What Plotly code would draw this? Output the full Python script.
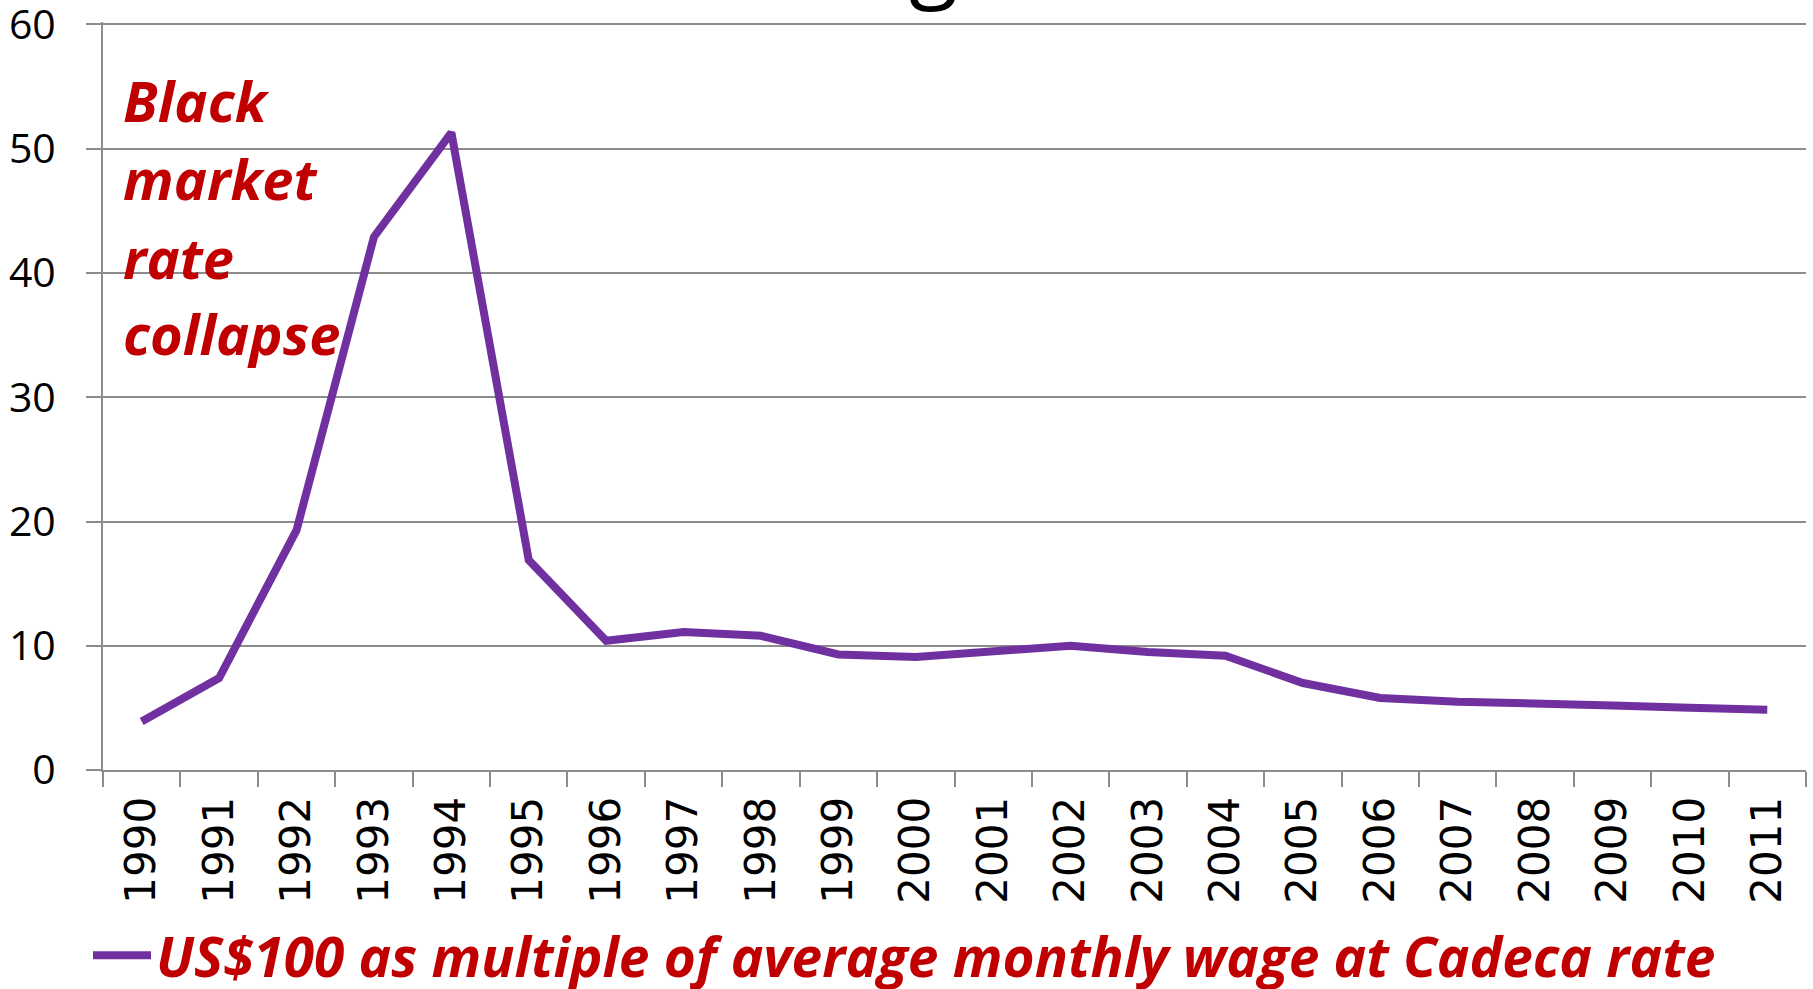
import plotly.graph_objects as go

years = [str(y) for y in range(1990, 2012)]
multiple = [3.9, 7.4, 19.3, 42.9, 51.3, 16.9, 10.4, 11.1, 10.8, 9.3, 9.1,
            9.6, 10.0, 9.5, 9.2, 7.0, 5.8, 5.5, 5.4, 5.2, 5.0, 4.85]
series_name = "US$100 as multiple of average monthly wage at Cadeca rate"
note_lines = ["Black", "market", "rate", "collapse"]
note_tops = [62, 140, 218, 294]
y_range = [0, 60.2]

W, H = 1813, 989
L, R, T, B = 103, 7, 24, 219
plot_h = H - T - B

def py(pix):
    return (H - B - pix) / plot_h

def px(pix):
    return (pix - L) / (W - L - R)

fig = go.Figure()
fig.add_trace(go.Scatter(
    x=years, y=multiple, mode="lines",
    name="<b><i>" + series_name + "</i></b>",
    line=dict(color="#7030A0", width=8),
))

fig.update_layout(
    width=W, height=H,
    margin=dict(l=L, r=R, t=T - 2, b=B, autoexpand=False),
    paper_bgcolor="white", plot_bgcolor="white",
    font=dict(family="Open Sans", color="black"),
    showlegend=True,
    legend=dict(
        orientation="h", x=px(88), y=py(955), xanchor="left", yanchor="middle",
        font=dict(family="Open Sans", size=55, color="#C00000"),
        bgcolor="rgba(0,0,0,0)", itemwidth=58,
    ),
    xaxis=dict(
        type="category", range=[-0.5, 21.5],
        showgrid=False, showline=True, linecolor="#8C8C8C", linewidth=2,
        ticks="outside", ticklen=15, tickcolor="#8C8C8C", tickwidth=2,
        tickson="boundaries", tickangle=-90, ticklabelstandoff=8,
        tickfont=dict(family="DejaVu Sans", size=42, color="black"),
    ),
    yaxis=dict(
        range=y_range, tickmode="linear", tick0=0, dtick=10,
        showgrid=True, gridcolor="#8C8C8C", gridwidth=2,
        showline=True, linecolor="#8C8C8C", linewidth=2,
        ticks="outside", ticklen=15, tickcolor="#8C8C8C", tickwidth=2,
        ticklabelstandoff=22, ticklabeloverflow="allow",
        tickfont=dict(family="Open Sans", size=41, color="black"),
        zeroline=False,
    ),
)

for word, top in zip(note_lines, note_tops):
    fig.add_annotation(
        text="<b><i>" + word + "</i></b>",
        xref="paper", yref="paper", x=px(121), y=py(top),
        xanchor="left", yanchor="top", align="left", showarrow=False,
        font=dict(family="Open Sans", size=56, color="#C00000"),
    )

# Title of the original slide, cut off at the top edge (only a descender shows)
fig.add_annotation(
    text="g", xref="paper", yref="paper", x=px(933), y=py(20),
    xanchor="center", yanchor="bottom", showarrow=False,
    font=dict(family="Open Sans", size=90, color="black"),
)

fig.write_html("out.html", config={"displayModeBar": False},
               post_script="document.body.style.margin='0';")
